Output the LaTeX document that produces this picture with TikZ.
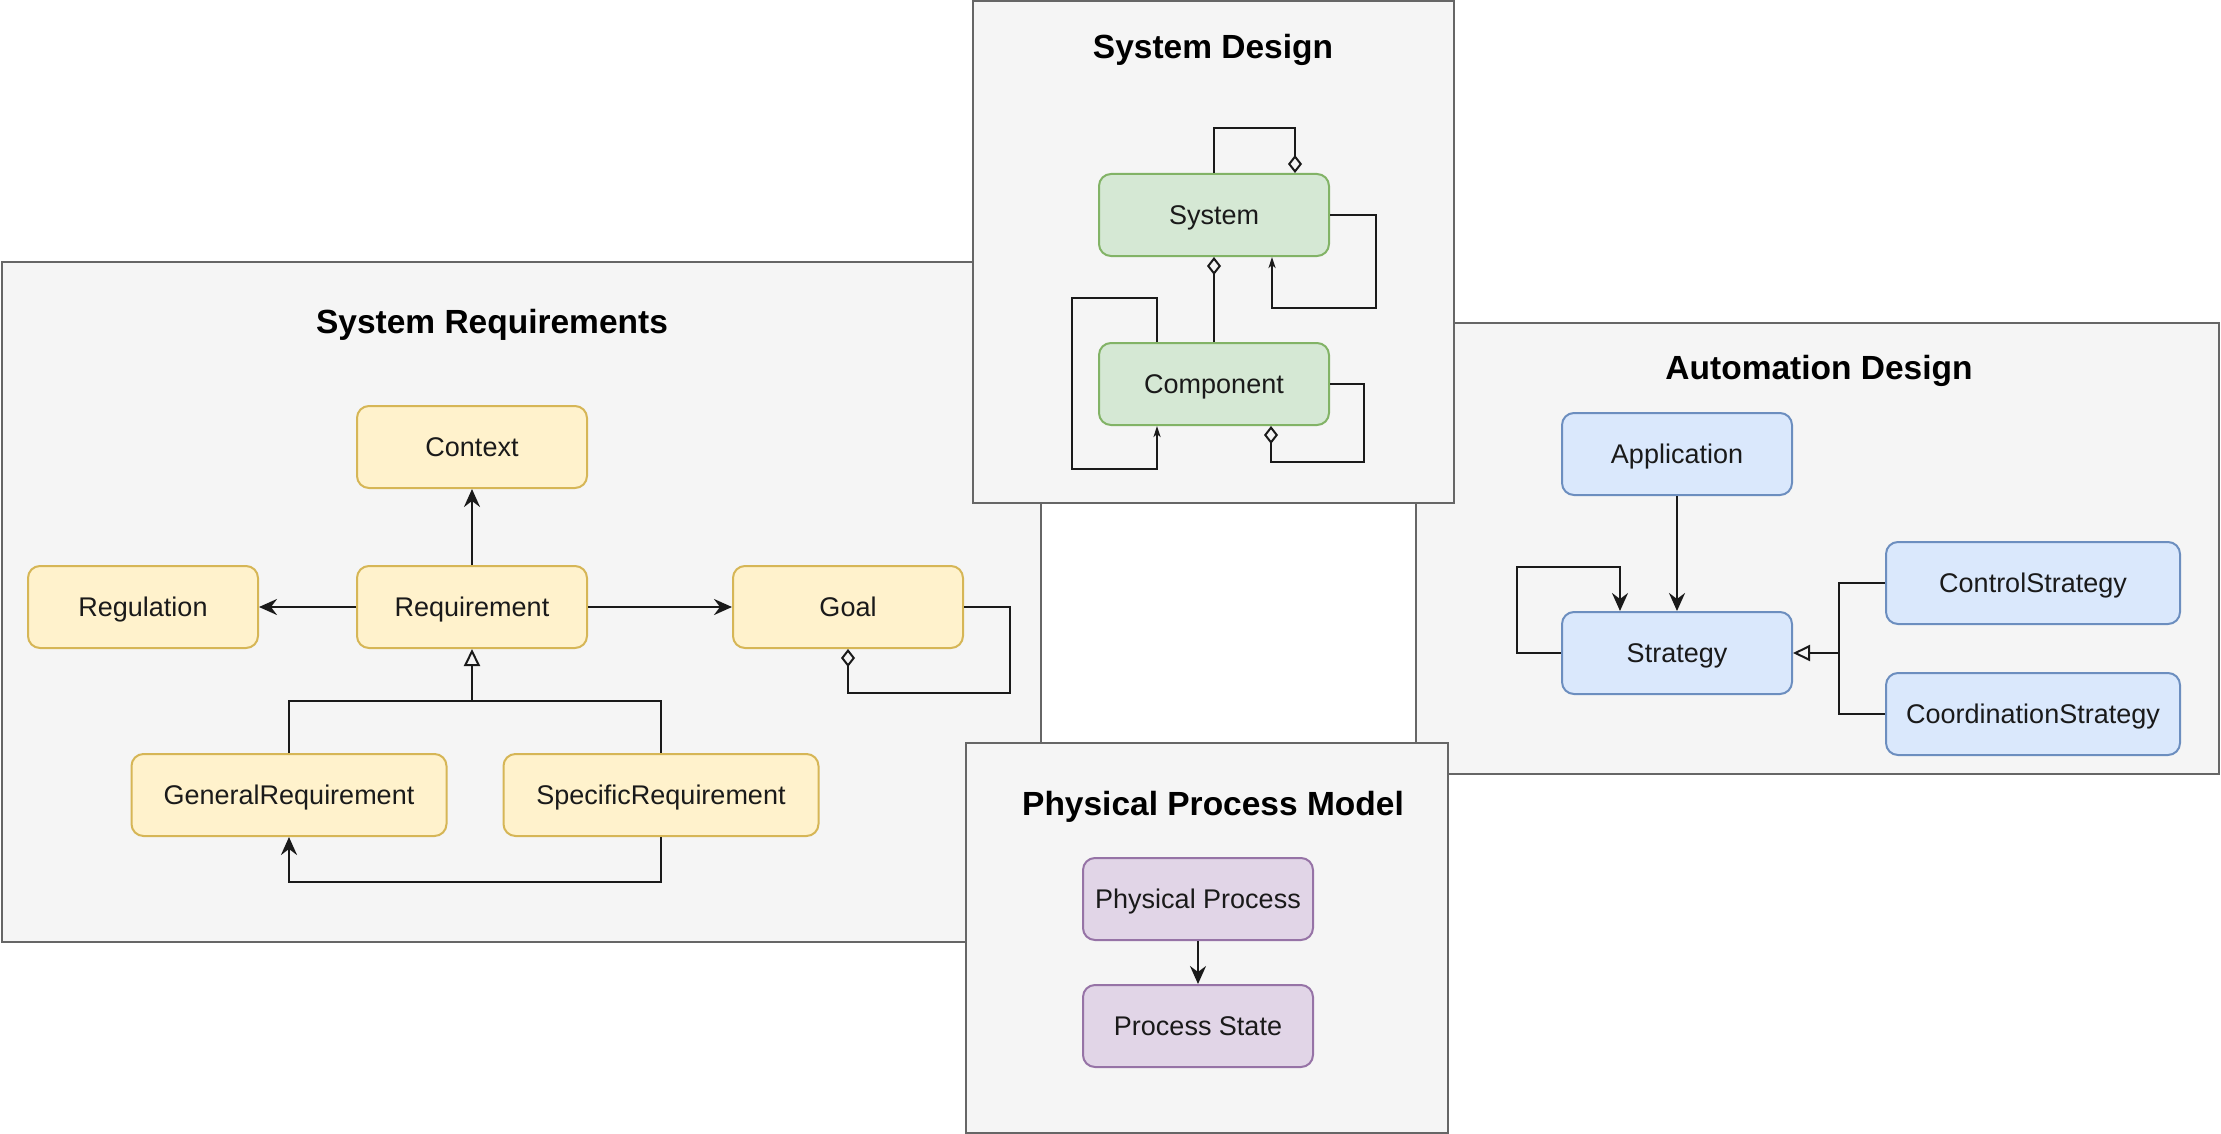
\documentclass[tikz,border=0pt]{standalone}
\usepackage{fontspec}
\setmainfont{Liberation Sans}
\usetikzlibrary{arrows.meta}

\definecolor{panelfill}{HTML}{F5F5F5}
\definecolor{panelline}{HTML}{666666}
\definecolor{reqfill}{HTML}{FFF2CC}
\definecolor{reqline}{HTML}{D6B656}
\definecolor{sysfill}{HTML}{D5E8D4}
\definecolor{sysline}{HTML}{82B366}
\definecolor{autfill}{HTML}{DAE8FC}
\definecolor{autline}{HTML}{6C8EBF}
\definecolor{phyfill}{HTML}{E1D5E7}
\definecolor{phyline}{HTML}{9673A6}
\definecolor{ink}{HTML}{1A1A1A}

\begin{document}
\begin{tikzpicture}[x=1pt,y=-1pt,
  panel/.style={fill=panelfill, draw=panelline, line width=2.5pt},
  paneltitle/.style={font=\fontsize{33.5}{40}\selectfont\bfseries, text=black,
    inner sep=0pt, text height=24pt, text depth=0pt},
  cls/.style={rectangle, rounded corners=12pt, line width=2pt,
    minimum width=230pt, minimum height=82pt, inner sep=0pt,
    text height=19.4pt, text depth=0pt,
    font=\fontsize{27}{32}\selectfont, text=ink},
  reqcls/.style={cls, fill=reqfill, draw=reqline},
  syscls/.style={cls, fill=sysfill, draw=sysline},
  autcls/.style={cls, fill=autfill, draw=autline},
  phycls/.style={cls, fill=phyfill, draw=phyline},
  link/.style={line width=2.5pt, draw=ink},
  assoc/.style={link, -{Stealth[length=18pt,width=16pt,inset=6pt]}},
  smallassoc/.style={link, -{Stealth[length=11pt,width=7pt,inset=3pt]}},
  aggr/.style={link, -{Diamond[open,length=18pt,width=14pt,line width=2pt]}},
  generalize/.style={link, -{Triangle[open,length=17pt,width=16pt,line width=2pt]}}
]
\useasboundingbox (0,0) rectangle (2221,1134);

% ---------- panels (later ones lie on top) ----------
\draw[panel] (2,262) rectangle (1041,942);
\draw[panel] (1416,323) rectangle (2219,774);
\draw[panel] (973,1) rectangle (1454,503);
\draw[panel] (966,743) rectangle (1448,1133);

% ---------- System Requirements ----------
\node[paneltitle] (reqtitle) at (492,321) {System Requirements};
\node[reqcls] (context) at (472,447) {Context};
\node[reqcls] (regulation) at (143,607) {Regulation};
\node[reqcls] (requirement) at (472,607) {Requirement};
\node[reqcls] (goal) at (848,607) {Goal};
\node[reqcls, minimum width=315pt] (genreq) at (289,795) {GeneralRequirement};
\node[reqcls, minimum width=315pt] (specreq) at (661,795) {SpecificRequirement};
\coordinate (reqjoin) at (472,701);

\draw[assoc] (requirement) -- (context);
\draw[assoc] (requirement) -- (regulation);
\draw[assoc] (requirement) -- (goal);
\draw[link] (genreq.north) |- (reqjoin) -| (specreq.north);
\draw[generalize] (reqjoin) -- (requirement.south);
\draw[assoc] (specreq.south) -- ++(0,45) -| (genreq.south);
\draw[aggr] (goal.east) -- ++(46,0) -- ++(0,86) -| (goal.south);

% ---------- System Design ----------
\node[paneltitle] (sdtitle) at (1213,47) {System Design};
\node[syscls] (system) at (1214,215) {System};
\node[syscls] (component) at (1214,384) {Component};

\draw[aggr] (system.north) -- ++(0,-45) -| ([xshift=81pt]system.north);
\draw[smallassoc] (system.east) -- ++(46,0) -- ++(0,93) -| ([xshift=58pt]system.south);
\draw[aggr] (component) -- (system);
\draw[smallassoc] ([xshift=-57pt]component.north) -- ++(0,-44) -- ++(-85,0)
  -- ++(0,171) -| ([xshift=-57pt]component.south);
\draw[aggr] (component.east) -- ++(34,0) -- ++(0,78) -| ([xshift=57pt]component.south);

% ---------- Automation Design ----------
\node[paneltitle] (adtitle) at (1819,367) {Automation Design};
\node[autcls] (application) at (1677,454) {Application};
\node[autcls] (strategy) at (1677,653) {Strategy};
\node[autcls, minimum width=294pt] (control) at (2033,583) {ControlStrategy};
\node[autcls, minimum width=294pt] (coordination) at (2033,714) {CoordinationStrategy};
\coordinate (stratjoin) at (1839,653);

\draw[assoc] (application) -- (strategy);
\draw[assoc] (strategy.west) -- ++(-44,0) -- ++(0,-86) -| ([xshift=-57pt]strategy.north);
\draw[link] (control.west) -| (stratjoin);
\draw[link] (coordination.west) -| (stratjoin);
\draw[generalize] (stratjoin) -- (strategy.east);

% ---------- Physical Process Model ----------
\node[paneltitle] (pptitle) at (1213,803) {Physical Process Model};
\node[phycls] (physproc) at (1198,899) {Physical Process};
\node[phycls] (procstate) at (1198,1026) {Process State};

\draw[assoc] (physproc) -- (procstate);
\end{tikzpicture}
\end{document}
